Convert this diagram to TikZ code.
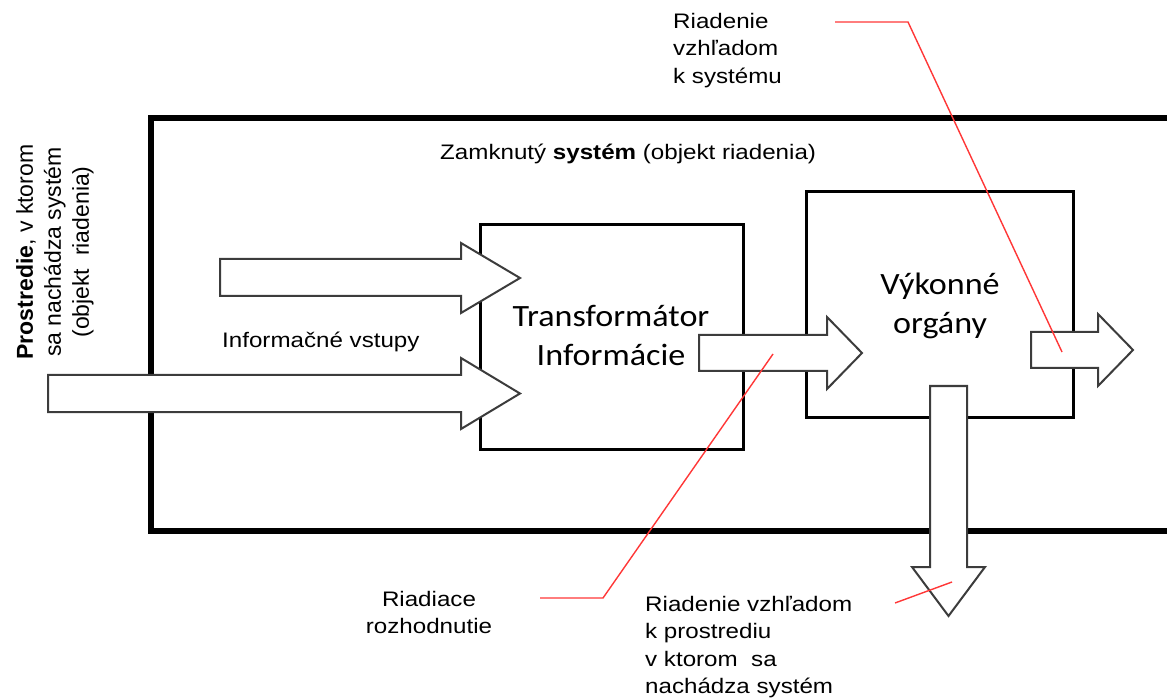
\documentclass[tikz,border=0pt]{standalone}
\usepackage{fontspec}
\setmainfont{Liberation Sans}
\newfontfamily\arialx{Liberation Sans}[FakeStretch=1.15]
\newfontfamily\calibx{Carlito}[FakeStretch=1.1]
\definecolor{leadred}{RGB}{255,55,55}
\definecolor{arrowline}{RGB}{60,60,60}
\begin{document}
\begin{tikzpicture}[x=1pt,y=-1pt,
  frame/.style={line width=5.5pt, line join=miter, draw=black},
  boxstyle/.style={draw=black, line width=3pt, fill=white, inner sep=0pt},
  blockarrow/.style={draw=arrowline, fill=white, line width=2pt, line join=miter},
  leader/.style={draw=leadred, line width=1.4pt},
  lab/.style={font=\arialx\fontsize{21}{27.5}\selectfont, inner sep=0pt, text=black},
  rotlab/.style={font=\fontsize{23}{28}\selectfont, inner sep=0pt, text=black, rotate=90, align=center},
  big/.style={font=\calibx\fontsize{31}{39}\selectfont, inner sep=0pt, align=center, text=black}]
\useasboundingbox (0,0) rectangle (1167,700);
\clip (0,0) rectangle (1167,700);
% outer frame (open to the right)
\draw[frame] (1180,118) -- (151,118) -- (151,531) -- (1180,531);
% boxes
\node[boxstyle, minimum width=263pt, minimum height=224pt] (tr) at (611.5,337) {};
\node[boxstyle, minimum width=267pt, minimum height=225pt] (vo) at (939.5,304.5) {};
% block arrows
\draw[blockarrow] (220,259) -- (461,259) -- (461,243) -- (520,278) -- (461,313) -- (461,296) -- (220,296) -- cycle;
\draw[blockarrow] (48,375) -- (461,375) -- (461,358) -- (520,393.5) -- (461,429) -- (461,412) -- (48,412) -- cycle;
\draw[blockarrow] (699,335) -- (827,335) -- (827,317) -- (862,353) -- (827,389) -- (827,371) -- (699,371) -- cycle;
\draw[blockarrow] (1031,332) -- (1098,332) -- (1098,314) -- (1133,350) -- (1098,386) -- (1098,368) -- (1031,368) -- cycle;
\draw[blockarrow] (930,386) -- (930,567) -- (912,567) -- (948.5,616) -- (985,567) -- (967,567) -- (967,386) -- cycle;
% texts
\node[big] (trt) at (611,335) {Transformátor\\Informácie};
\node[big] (vot) at (940,306) {Výkonné\\orgány};
\node[rotlab] (env) at (55,252) {\textbf{Prostredie}, v ktorom\\sa nachádza systém\\(objekt\ \ riadenia)};
\node[lab, anchor=north west, align=left] (lsys) at (673,13) {Riadenie\\vzhľadom\\k systému};
\node[lab, anchor=base west] (zs) at (440,160) {Zamknutý \textbf{systém} (objekt riadenia)};
\node[lab, anchor=base west] (iv) at (222,348) {Informačné vstupy};
\node[lab, anchor=north, align=center] (rr) at (429,591) {Riadiace\\rozhodnutie};
\node[lab, anchor=north west, align=left] (lenv) at (645,596) {Riadenie vzhľadom\\k prostrediu\\v ktorom\ \ sa\\nachádza systém};
% leader lines
\coordinate (a1) at (835,22);
\coordinate (a2) at (908,22);
\coordinate (a3) at (1062,352);
\coordinate (b1) at (540,598);
\coordinate (b2) at (603,598);
\coordinate (b3) at (773,354);
\coordinate (c1) at (895,603);
\coordinate (c2) at (952,582);
\draw[leader] (a1) -- (a2) -- (a3);
\draw[leader] (b1) -- (b2) -- (b3);
\draw[leader] (c1) -- (c2);
\end{tikzpicture}
\end{document}
